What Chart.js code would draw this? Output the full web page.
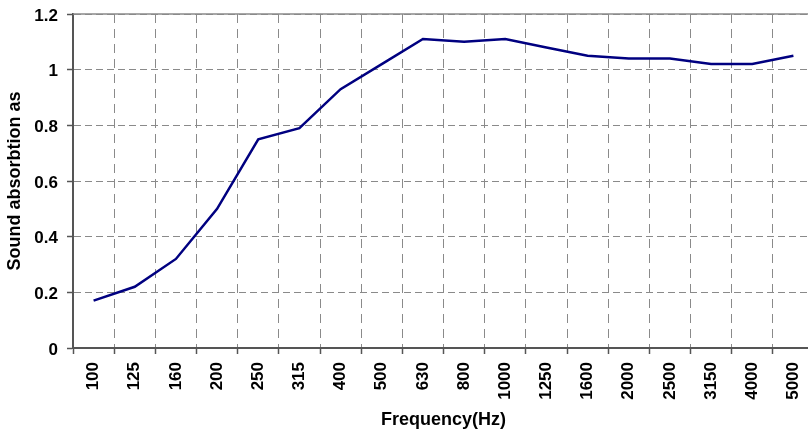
<!DOCTYPE html>
<html>
<head>
<meta charset="utf-8">
<script src="https://cdn.jsdelivr.net/npm/chart.js@4/dist/chart.umd.min.js"></script>
<style>
  html, body { margin: 0; padding: 0; background: #fff; overflow: hidden; width: 808px; height: 433px; }
  #wrap { width: 814px; height: 433px; }
</style>
</head>
<body>
<div id="wrap"><canvas id="c" width="814" height="433"></canvas></div>
<script>
const frequencies = ['100','125','160','200','250','315','400','500','630','800','1000','1250','1600','2000','2500','3150','4000','5000'];
const absorption = [0.17, 0.22, 0.32, 0.50, 0.75, 0.79, 0.93, 1.02, 1.11, 1.10, 1.11, 1.08, 1.05, 1.04, 1.04, 1.02, 1.02, 1.05];
const yTickValues = [0, 0.2, 0.4, 0.6, 0.8, 1, 1.2];
const yTickLabels = ['0', '0.2', '0.4', '0.6', '0.8', '1', '1.2'];
const xTitle = 'Frequency(Hz)';
const yTitle = 'Sound absorbtion as';

const FONT = "'Liberation Sans', Arial, sans-serif";

const topBorder = {
  id: 'topBorder',
  afterDraw(chart) {
    const {ctx, chartArea} = chart;
    ctx.save();
    ctx.strokeStyle = '#8a8a8a';
    ctx.lineWidth = 1.5;
    ctx.setLineDash([]);
    ctx.beginPath();
    ctx.moveTo(chartArea.left, chartArea.top);
    ctx.lineTo(chartArea.right, chartArea.top);
    ctx.stroke();
    ctx.restore();
  }
};

new Chart(document.getElementById('c'), {
  type: 'line',
  data: {
    labels: frequencies,
    datasets: [{
      data: absorption,
      borderColor: '#000080',
      borderWidth: 2.5,
      pointRadius: 0,
      tension: 0,
      fill: false
    }]
  },
  options: {
    responsive: false,
    animation: false,
    devicePixelRatio: 1,
    layout: { padding: { top: 14, left: 0, right: 0, bottom: 0 } },
    plugins: { legend: { display: false }, tooltip: { enabled: false } },
    scales: {
      x: {
        type: 'category',
        offset: true,
        grid: {
          offset: true,
          color: '#8a8a8a',
          lineWidth: 1,
          tickLength: 6,
          tickColor: '#555',
          tickWidth: 1.5,
          tickBorderDash: []
        },
        border: { display: true, color: '#555', width: 2, dash: [9, 6] },
        ticks: {
          color: '#000',
          minRotation: 90,
          maxRotation: 90,
          autoSkip: false,
          padding: 8,
          font: { family: FONT, size: 17, weight: 'bold' }
        },
        title: {
          display: true,
          text: xTitle,
          color: '#000',
          padding: { top: 0, bottom: 2 },
          font: { family: FONT, size: 18, weight: 'bold' }
        },
        afterFit(scale) {
          scale.height = 85;
          scale.paddingLeft = 0; scale.paddingRight = 0;
          scale.paddingTop = 0; scale.paddingBottom = 0;
        }
      },
      y: {
        min: yTickValues[0],
        max: yTickValues[yTickValues.length - 1],
        afterBuildTicks(scale) { scale.ticks = yTickValues.map(v => ({ value: v })); },
        ticks: {
          color: '#000',
          padding: 9,
          labelOffset: 2,
          font: { family: FONT, size: 17, weight: 'bold' },
          callback(value) {
            const i = yTickValues.findIndex(v => Math.abs(v - value) < 1e-9);
            return i >= 0 ? yTickLabels[i] : '';
          }
        },
        grid: {
          color: '#8a8a8a',
          lineWidth: 1,
          tickLength: 6,
          tickColor: '#555',
          tickWidth: 1.5,
          tickBorderDash: []
        },
        border: { display: true, color: '#555', width: 2, dash: [7, 4] },
        title: {
          display: true,
          text: yTitle,
          color: '#000',
          padding: { top: 4, bottom: 0 },
          font: { family: FONT, size: 18, weight: 'bold' }
        },
        afterFit(scale) {
          scale.width = 73;
          scale.paddingTop = 0; scale.paddingBottom = 0;
          scale.paddingLeft = 0; scale.paddingRight = 0;
        }
      }
    }
  },
  plugins: [topBorder]
});
</script>
</body>
</html>
